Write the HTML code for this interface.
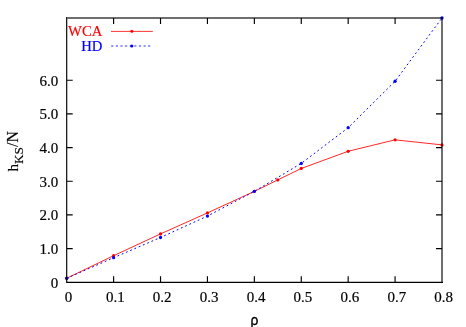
<!DOCTYPE html>
<html><head><meta charset="utf-8"><title>chart</title>
<style>
html,body{margin:0;padding:0;background:#fff;}
body{width:466px;height:327px;overflow:hidden;}
svg{display:block;will-change:transform;}
text{font-family:"Liberation Serif",serif;font-size:15.0px;fill:#000;stroke:#000;stroke-width:0.18px;}
</style></head><body>
<svg width="466" height="327" viewBox="0 0 466 327">
<rect x="0" y="0" width="466" height="327" fill="#fff"/>
<text x="68.40" y="302.1" text-anchor="middle">0</text>
<text x="115.31" y="302.1" text-anchor="middle">0.1</text>
<text x="162.22" y="302.1" text-anchor="middle">0.2</text>
<text x="209.14" y="302.1" text-anchor="middle">0.3</text>
<text x="256.05" y="302.1" text-anchor="middle">0.4</text>
<text x="302.96" y="302.1" text-anchor="middle">0.5</text>
<text x="349.88" y="302.1" text-anchor="middle">0.6</text>
<text x="396.79" y="302.1" text-anchor="middle">0.7</text>
<text x="443.70" y="302.1" text-anchor="middle">0.8</text>
<text x="58.3" y="287.70" text-anchor="end">0</text>
<text x="58.3" y="254.02" text-anchor="end">1.0</text>
<text x="58.3" y="220.34" text-anchor="end">2.0</text>
<text x="58.3" y="186.66" text-anchor="end">3.0</text>
<text x="58.3" y="152.98" text-anchor="end">4.0</text>
<text x="58.3" y="119.30" text-anchor="end">5.0</text>
<text x="58.3" y="85.62" text-anchor="end">6.0</text>
<text transform="translate(254.3,325.0) scale(0.92,1)" text-anchor="middle" style="font-family:'Liberation Sans',sans-serif;font-size:15px;stroke-width:0.35px">ρ</text>
<text transform="translate(18.2,171.5) rotate(-90)">h<tspan dy="4.5" font-size="13.3">KS</tspan><tspan dy="-4.5" font-size="15.8">/N</tspan></text>
<text x="102.4" y="36.1" text-anchor="end" style="font-size:14.7px;fill:#f00;stroke:#f00">WCA</text>
<text x="102.4" y="50.9" text-anchor="end" style="font-size:14.7px;fill:#00f;stroke:#00f">HD</text>
<path d="M111 31.4 H152.8" stroke="#f00" stroke-width="0.8" fill="none"/>
<circle cx="131.8" cy="31.3" r="1.55" fill="#f00"/>
<path d="M111.2 46.0 H150.5" stroke="#00f" stroke-width="0.85" stroke-dasharray="2.1 2.52" fill="none"/>
<circle cx="131.8" cy="46.0" r="1.6" fill="#00f"/>
<polyline points="66.70,278.26 113.61,255.69 160.53,233.90 207.44,212.92 254.35,191.36 277.81,179.91 301.26,168.46 348.18,151.28 395.09,139.83 442.00,144.89" stroke="#f00" stroke-width="0.85" fill="none"/>
<polyline points="66.70,278.26 113.61,257.71 160.53,237.51 207.44,216.09 254.35,191.36 301.26,163.41 348.18,127.71 395.09,81.23 442.00,18.00" stroke="#00f" stroke-width="1.0" stroke-dasharray="1.8 2.82" fill="none"/>
<circle cx="66.70" cy="278.26" r="1.6" fill="#f00"/>
<circle cx="113.61" cy="255.69" r="1.6" fill="#f00"/>
<circle cx="160.53" cy="233.90" r="1.6" fill="#f00"/>
<circle cx="207.44" cy="212.92" r="1.6" fill="#f00"/>
<circle cx="254.35" cy="191.36" r="1.6" fill="#f00"/>
<circle cx="277.81" cy="179.91" r="1.6" fill="#f00"/>
<circle cx="301.26" cy="168.46" r="1.6" fill="#f00"/>
<circle cx="348.18" cy="151.28" r="1.6" fill="#f00"/>
<circle cx="395.09" cy="139.83" r="1.6" fill="#f00"/>
<circle cx="442.00" cy="144.89" r="1.6" fill="#f00"/>
<circle cx="66.70" cy="278.26" r="1.65" fill="#00f"/>
<circle cx="113.61" cy="257.71" r="1.65" fill="#00f"/>
<circle cx="160.53" cy="237.51" r="1.65" fill="#00f"/>
<circle cx="207.44" cy="216.09" r="1.65" fill="#00f"/>
<circle cx="254.35" cy="191.36" r="1.65" fill="#00f"/>
<circle cx="301.26" cy="163.41" r="1.65" fill="#00f"/>
<circle cx="348.18" cy="127.71" r="1.65" fill="#00f"/>
<circle cx="395.09" cy="81.23" r="1.65" fill="#00f"/>
<circle cx="442.00" cy="18.00" r="1.65" fill="#00f"/>
<path fill="#000" fill-opacity="0.569" d="M67.28 17H443V282.88H441V19H67.28Z"/>
<path fill="#000" d="M66.12 281.73H443.00V282.88H66.12ZM66.12 17.00H67.28V282.30H66.12ZM113.04 276.30H114.19V282.30H113.04ZM113.04 18.00H114.19V24.00H113.04ZM159.95 276.30H161.10V282.30H159.95ZM159.95 18.00H161.10V24.00H159.95ZM206.86 276.30H208.01V282.30H206.86ZM206.86 18.00H208.01V24.00H206.86ZM253.78 276.30H254.93V282.30H253.78ZM253.78 18.00H254.93V24.00H253.78ZM300.69 276.30H301.84V282.30H300.69ZM300.69 18.00H301.84V24.00H300.69ZM347.60 276.30H348.75V282.30H347.60ZM347.60 18.00H348.75V24.00H347.60ZM394.51 276.30H395.66V282.30H394.51ZM394.51 18.00H395.66V24.00H394.51ZM66.70 248.05H72.70V249.19H66.70ZM436.00 248.05H442.00V249.19H436.00ZM66.70 214.37H72.70V215.51H66.70ZM436.00 214.37H442.00V215.51H436.00ZM66.70 180.69H72.70V181.84H66.70ZM436.00 180.69H442.00V181.84H436.00ZM66.70 147.01H72.70V148.16H66.70ZM436.00 147.01H442.00V148.16H436.00ZM66.70 113.33H72.70V114.48H66.70ZM436.00 113.33H442.00V114.48H436.00ZM66.70 79.65H72.70V80.80H66.70ZM436.00 79.65H442.00V80.80H436.00Z"/>
</svg>
</body></html>
